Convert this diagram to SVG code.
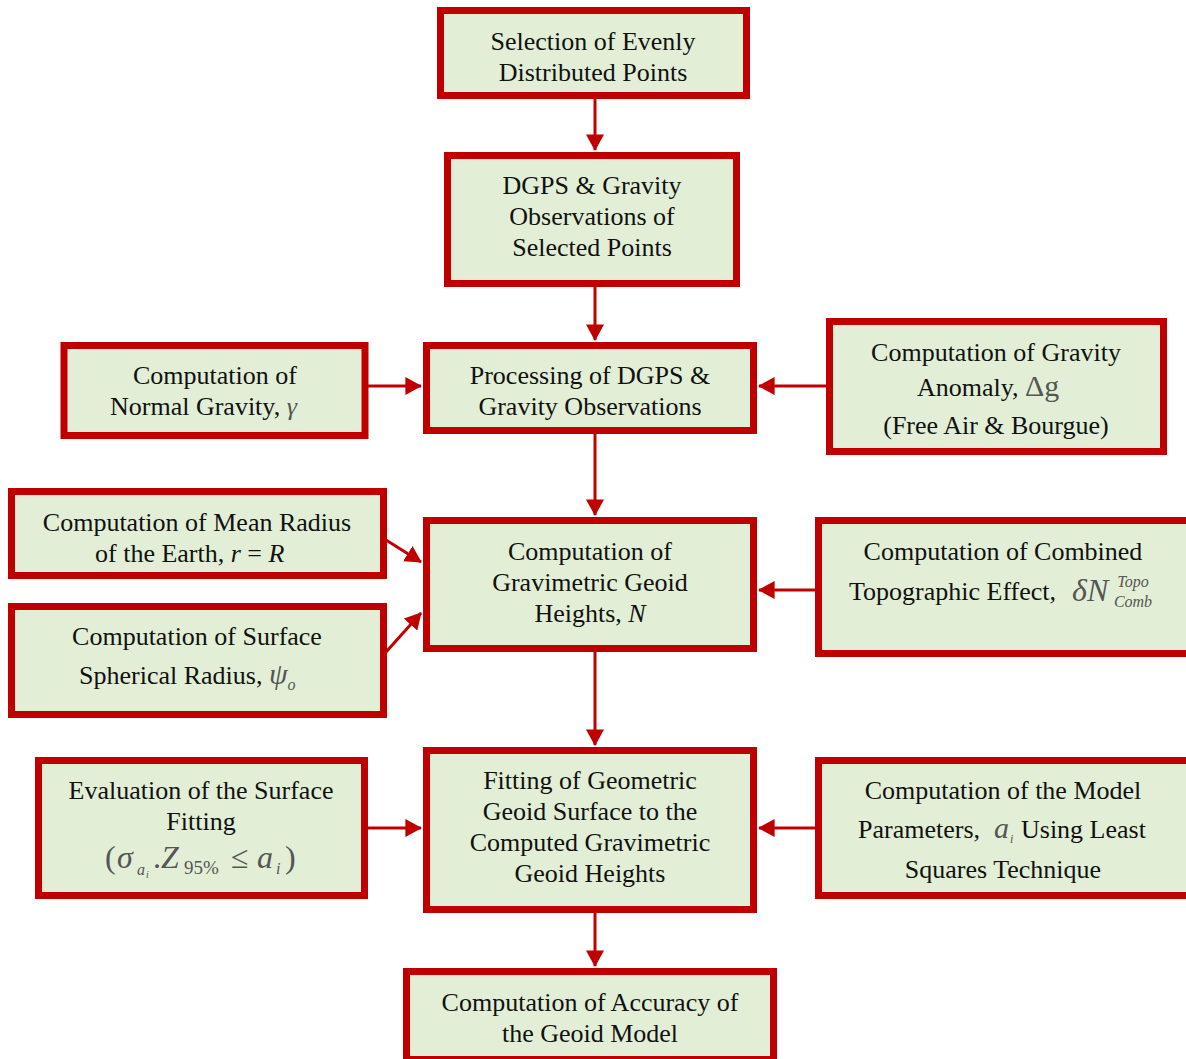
<svg xmlns="http://www.w3.org/2000/svg" width="1186" height="1059" viewBox="0 0 1186 1059">
<defs>
<style>
.box{fill:#E2EFD6;stroke:#C00000;stroke-width:7}
.t{font-family:"Liberation Serif","Times New Roman",serif;font-size:26px;fill:#111;text-anchor:middle}
.s{font-family:"Liberation Serif","Times New Roman",serif;font-size:26px;fill:#111}
.m{font-style:italic;fill:#555}
.c{stroke:#C00000;stroke-width:3;fill:none}
</style>
<marker id="ah" markerWidth="6" markerHeight="6" refX="5.2" refY="3" orient="auto" markerUnits="strokeWidth">
<path d="M0,0 L5.5,3 L0,6 Z" fill="#C00000"/>
</marker>
</defs>
<rect width="1186" height="1059" fill="#fff"/>
<g id="connectors">
<line class="c" x1="595" y1="99" x2="595" y2="150" marker-end="url(#ah)"/>
<line class="c" x1="595" y1="287" x2="595" y2="340" marker-end="url(#ah)"/>
<line class="c" x1="368" y1="386" x2="421" y2="386" marker-end="url(#ah)"/>
<line class="c" x1="826" y1="386" x2="759" y2="386" marker-end="url(#ah)"/>
<line class="c" x1="595" y1="434" x2="595" y2="515" marker-end="url(#ah)"/>
<line class="c" x1="386" y1="540" x2="421" y2="562" marker-end="url(#ah)"/>
<line class="c" x1="386" y1="652" x2="421" y2="613" marker-end="url(#ah)"/>
<line class="c" x1="815" y1="590" x2="759" y2="590" marker-end="url(#ah)"/>
<line class="c" x1="595" y1="652" x2="595" y2="745" marker-end="url(#ah)"/>
<line class="c" x1="368" y1="828" x2="421" y2="828" marker-end="url(#ah)"/>
<line class="c" x1="815" y1="828" x2="759" y2="828" marker-end="url(#ah)"/>
<line class="c" x1="595" y1="913" x2="595" y2="966" marker-end="url(#ah)"/>
</g>
<g id="n1">
<rect class="box" x="440.5" y="10.5" width="306" height="85"/>
<text class="t" x="593" y="50">Selection of Evenly</text>
<text class="t" x="593" y="81">Distributed Points</text>
</g>
<g id="n2">
<rect class="box" x="447.5" y="155.5" width="289" height="128"/>
<text class="t" x="592" y="194">DGPS &amp; Gravity</text>
<text class="t" x="592" y="225">Observations of</text>
<text class="t" x="592" y="256">Selected Points</text>
</g>
<g id="n3">
<rect class="box" x="426.5" y="345.5" width="327" height="85"/>
<text class="t" x="590" y="384">Processing of DGPS &amp;</text>
<text class="t" x="590" y="415">Gravity Observations</text>
</g>
<g id="n4">
<rect class="box" x="64" y="345.5" width="301" height="90"/>
<text class="t" x="215" y="384">Computation of</text>
<text class="s" x="110" y="415">Normal Gravity,  <tspan class="m">γ</tspan></text>
</g>
<g id="n5">
<rect class="box" x="829.5" y="321.5" width="334" height="130"/>
<text class="t" x="996" y="361">Computation of Gravity</text>
<text class="s" x="917" y="396">Anomaly,  <tspan fill="#555" style="font-size:30px">Δg</tspan></text>
<text class="t" x="996" y="434">(Free Air &amp; Bourgue)</text>
</g>
<g id="n6">
<rect class="box" x="11.5" y="491.5" width="372" height="84"/>
<text class="t" x="197" y="531">Computation of Mean Radius</text>
<text class="s" x="95" y="562">of the Earth,  <tspan font-style="italic">r</tspan> = <tspan font-style="italic">R</tspan></text>
</g>
<g id="n7">
<rect class="box" x="11.5" y="606.5" width="372" height="108"/>
<text class="t" x="197" y="645">Computation of Surface</text>
<text class="s" x="79" y="684">Spherical Radius,  <tspan class="m" style="font-size:30px">ψ</tspan><tspan class="m" style="font-size:16px" dy="6">o</tspan></text>
</g>
<g id="n8">
<rect class="box" x="426.5" y="520.5" width="327" height="128"/>
<text class="t" x="590" y="560">Computation of</text>
<text class="t" x="590" y="591">Gravimetric Geoid</text>
<text class="t" x="590" y="622">Heights, <tspan font-style="italic">N</tspan></text>
</g>
<g id="n9">
<rect class="box" x="818.5" y="520.5" width="374" height="133"/>
<text class="t" x="1003" y="560">Computation of Combined</text>
<text class="s" x="849" y="600">Topographic Effect,</text>
<text class="s m" x="1072" y="601" style="font-size:32px">δN</text>
<text class="s m" x="1133" y="587" text-anchor="middle" style="font-size:16px">Topo</text>
<text class="s m" x="1133" y="607" text-anchor="middle" style="font-size:16px">Comb</text>
</g>
<g id="n10">
<rect class="box" x="426.5" y="750.5" width="327" height="159"/>
<text class="t" x="590" y="789">Fitting of Geometric</text>
<text class="t" x="590" y="820">Geoid Surface to the</text>
<text class="t" x="590" y="851">Computed Gravimetric</text>
<text class="t" x="590" y="882">Geoid Heights</text>
</g>
<g id="n11">
<rect class="box" x="38.5" y="760.5" width="326" height="135"/>
<text class="t" x="201" y="799">Evaluation of the Surface</text>
<text class="t" x="201" y="830">Fitting</text>
<text class="s" y="868" style="font-size:32px;fill:#555"><tspan x="105">(</tspan><tspan x="117" font-style="italic">σ</tspan><tspan x="137" y="875" font-style="italic" style="font-size:16px">a</tspan><tspan x="146" y="878" font-style="italic" style="font-size:10px">i</tspan><tspan x="153" y="868">.</tspan><tspan x="161" font-style="italic">Z</tspan><tspan x="184" y="874" style="font-size:19px">95%</tspan><tspan x="231" y="868">≤</tspan><tspan x="257" font-style="italic">a</tspan><tspan x="276" y="874" font-style="italic" style="font-size:16px">i</tspan><tspan x="285" y="868">)</tspan></text>
</g>
<g id="n12">
<rect class="box" x="818.5" y="760.5" width="374" height="135"/>
<text class="t" x="1003" y="799">Computation of the Model</text>
<text class="s" x="858" y="838">Parameters,</text>
<text class="s m" x="994" y="838" style="font-size:30px">a</text>
<text class="s m" x="1010" y="843" style="font-size:12px">i</text>
<text class="s" x="1021" y="838">Using Least</text>
<text class="t" x="1003" y="878">Squares Technique</text>
</g>
<g id="n13">
<rect class="box" x="406.5" y="971.5" width="367" height="88"/>
<text class="t" x="590" y="1011">Computation of Accuracy of</text>
<text class="t" x="590" y="1042">the Geoid Model</text>
</g>
</svg>
